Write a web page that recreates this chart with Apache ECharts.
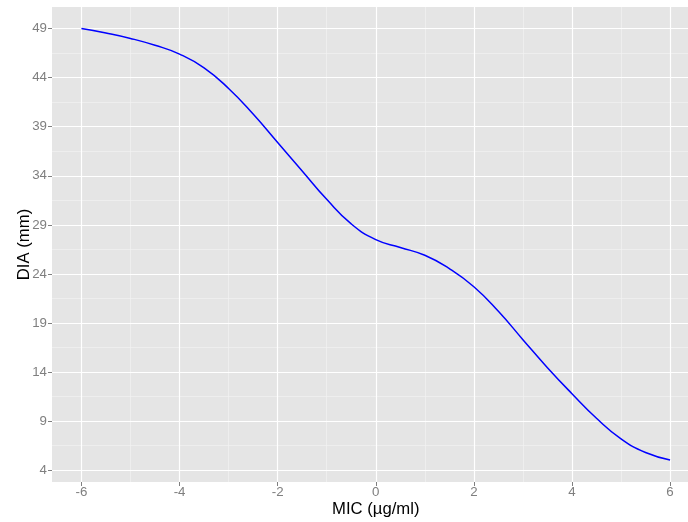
<!DOCTYPE html>
<html>
<head>
<meta charset="utf-8">
<script src="https://cdn.jsdelivr.net/npm/echarts@6/dist/echarts.min.js"></script>
<style>
html,body{margin:0;padding:0;background:#fff;}
#chart{width:688px;height:522px;}
</style>
</head>
<body>
<div id="chart"></div>
<script>
const micValues = [-6,-5.5,-5,-4.5,-4,-3.5,-3,-2.5,-2,-1.5,-1,-0.5,0,0.5,1,1.5,2,2.5,3,3.5,4,4.5,5,5.5,6];
const diaValues = [49.0,48.55,48.0,47.3,46.4,45.0,42.9,40.3,37.4,34.5,31.6,29.1,27.5,26.7,25.9,24.55,22.7,20.2,17.3,14.45,11.8,9.3,7.2,5.8,5.05];
const xTicks = [-6,-4,-2,0,2,4,6];
const yTicks = [4,9,14,19,24,29,34,39,44,49];
const xMinor = [-5,-3,-1,1,3,5];
const yMinor = [6.5,11.5,16.5,21.5,26.5,31.5,36.5,41.5,46.5];

const font = "'Liberation Sans', Arial, Helvetica, sans-serif";
const X_MIN = -6.6, X_MAX = 6.6, Y_MIN = 2.8, Y_MAX = 51.2;

const chart = echarts.init(document.getElementById('chart'), null, {renderer: 'canvas'});
const minorAxisCommon = {
  type: 'value', z: 0,
  axisLine: {show: false, onZero: false},
  splitLine: {show: true, lineStyle: {color: '#F2F2F2', width: 0.7}}
};
chart.setOption({
  animation: false,
  backgroundColor: '#ffffff',
  grid: {left: 52, top: 7, width: 647.5, height: 475, show: true, backgroundColor: '#E5E5E5', borderWidth: 0, containLabel: false, outerBoundsMode: 'none'},
  xAxis: [
    Object.assign({}, minorAxisCommon, {position: 'bottom', min: X_MIN, max: X_MAX, axisTick: {show: false, customValues: xMinor}, axisLabel: {show: false, customValues: xMinor}}),
    {
      type: 'value', z: 1, min: X_MIN, max: X_MAX, position: 'bottom',
      name: 'MIC (µg/ml)', nameLocation: 'middle', nameGap: 19, nameMoveOverlap: false,
      nameTextStyle: {color: '#000', fontSize: 16.7, fontFamily: font},
      axisLine: {show: false, onZero: false},
      axisTick: {show: true, length: 4, customValues: xTicks, lineStyle: {color: '#7F7F7F', width: 1}},
      axisLabel: {color: '#7F7F7F', fontSize: 13.3, fontFamily: font, margin: 4, customValues: xTicks},
      splitLine: {show: true, lineStyle: {color: '#FFFFFF', width: 1.2}}
    }
  ],
  yAxis: [
    Object.assign({}, minorAxisCommon, {position: 'left', min: Y_MIN, max: Y_MAX, axisTick: {show: false, customValues: yMinor}, axisLabel: {show: false, customValues: yMinor}}),
    {
      type: 'value', z: 1, min: Y_MIN, max: Y_MAX, position: 'left',
      name: 'DIA (mm)', nameLocation: 'middle', nameGap: 19, nameMoveOverlap: false,
      nameTextStyle: {color: '#000', fontSize: 16.7, fontFamily: font},
      axisLine: {show: false, onZero: false},
      axisTick: {show: true, length: 4, customValues: yTicks, lineStyle: {color: '#7F7F7F', width: 1}},
      axisLabel: {color: '#7F7F7F', fontSize: 13.3, fontFamily: font, margin: 5, customValues: yTicks},
      splitLine: {show: true, lineStyle: {color: '#FFFFFF', width: 1.2}}
    }
  ],
  series: [{
    type: 'line',
    xAxisIndex: 1, yAxisIndex: 1,
    data: micValues.map((m, i) => [m, diaValues[i]]),
    smooth: 0.5,
    showSymbol: false,
    lineStyle: {color: '#0000FF', width: 1.5},
    z: 3
  }]
});
</script>
</body>
</html>
